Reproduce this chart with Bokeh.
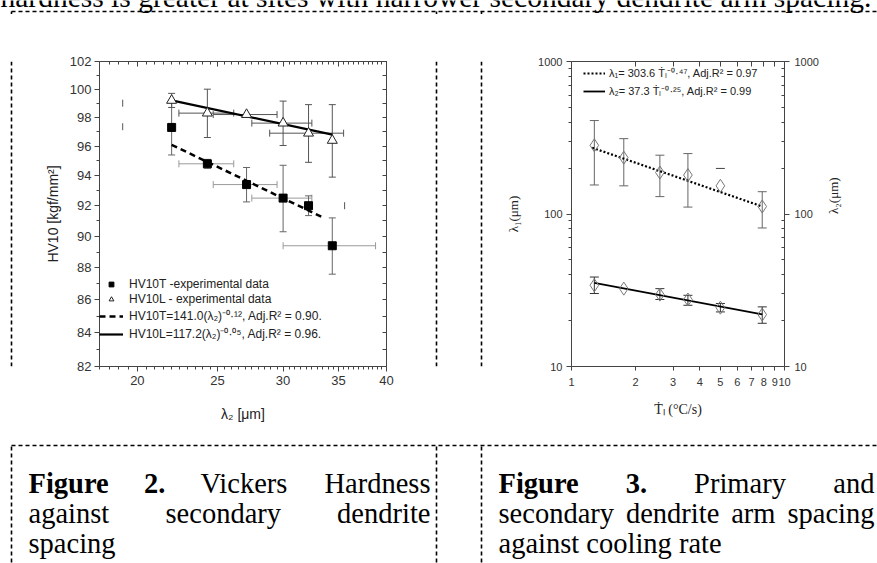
import math
from bokeh.plotting import figure
from bokeh.layouts import row, column
from bokeh.models import (ColumnDataSource, Whisker, TeeHead, FixedTicker, LogAxis,
                          PrintfTickFormatter, Range1d, Legend, LegendItem)
from bokeh.embed import file_html
from bokeh.resources import INLINE
from bokeh.core.properties import value

NAN = float("nan")

# ---------------- Figure 2 data (hardness vs secondary spacing) ----------------
lam2_um = [22.0, 24.3, 27.1, 30.0, 32.2, 34.4]
hv10t = [97.3, 94.8, 93.4, 92.5, 92.0, 89.4]
hv10t_yerr = [1.9, 0.3, 1.15, 2.2, 0.65, 1.8]
hv10t_xerr = [0.0, 1.85, 2.4, 2.5, 0.0, 4.4]
hv10l = [99.2, 98.3, 98.2, 97.6, 96.9, 96.4]
hv10l_yerr = [0.5, 1.7, 0.0, 1.55, 2.0, 2.5]
hv10l_xerr = [0.0, 1.85, 2.4, 2.5, 3.3, 0.0]
faint_cap_x = [19.2, 19.2, 35.6]
faint_cap_y = [99.0, 97.35, 92.0]
fit_t_x = [22.0, 33.6]
fit_t_y = [96.1, 91.2]
fit_l_x = [22.0, 34.4]
fit_l_y = [99.2, 96.8]
hv_x_ticks = [20, 25, 30, 35, 40]
hv_x_minor = [18 + 0.5 * i for i in range(45)]
hv_y_ticks = [82, 84, 86, 88, 90, 92, 94, 96, 98, 100, 102]
hv_y_minor = [83, 85, 87, 89, 91, 93, 95, 97, 99, 101]
hv_y_right = list(range(82, 103))

# ---------------- Figure 3 data (spacing vs cooling rate) ----------------
cooling_rate = [1.28, 1.76, 2.60, 3.52, 5.00, 7.86]
lam1 = [282, 234, 187, 180, 153, 112]
lam1_low = [155, 153, 130, 111, NAN, 81]
lam1_high = [410, 312, 243, 249, NAN, 140]
lam1_faint_cap_x = [5.00]
lam1_faint_cap_y = [199]
lam2 = [34.1, 32.4, 29.6, 27.5, 24.3, 21.9]
lam2_low = [30.1, NAN, 27.5, 25.2, 22.8, 19.2]
lam2_high = [38.6, NAN, 32.4, 29.3, 25.9, 24.6]
fit1_x = [1.25, 7.86]
fit1_y = [272, 112]
fit2_x = [1.28, 7.86]
fit2_y = [35.3, 22.0]
rate_ticks = [1, 2, 3, 4, 5, 6, 7, 8, 9, 10]
lam_ticks = [10, 100, 1000]
lam_minor = [20, 30, 40, 50, 60, 70, 80, 90, 200, 300, 400, 500, 600, 700, 800, 900]

SANS = "Liberation Sans"
SERIF = "Liberation Serif"
AX = "#444444"
DASH = "4 3"


def deco(x0, x1, y0, y1):
    p = figure(width=x1 - x0, height=y1 - y0, x_range=Range1d(x0, x1), y_range=Range1d(y1, y0),
               output_backend="svg", toolbar_location=None, tools="", min_border=0,
               x_axis_location=None, y_axis_location=None, outline_line_color=None, title=None)
    p.grid.visible = False
    return p


def vlines(p, xs, y0, y1):
    p.segment(x0=xs, x1=xs, y0=[y0] * len(xs), y1=[y1] * len(xs),
              line_color="black", line_width=1.6, line_dash=DASH)


VX = [11, 436, 481]
FS = "28.5px"
FIX = 0.3 * 28.5     # alphabetic-baseline correction for the serif text
HFS = "29.5px"
HFIX = 0.3 * 29.5

# header (running text, cut off at the top of the window)
head = deco(0, 877, 0, 14)
head.text(x=[0], y=[5 - HFIX],
          text=["hardness is greater at sites with narrower secondary dendrite arm spacing."],
          text_font=value(SERIF), text_font_size=HFS, text_baseline="alphabetic")
head.segment(x0=[11], x1=[877], y0=[11], y1=[11], line_color="black", line_width=1.4, line_dash=DASH)
vlines(head, VX, 11, 14)

stripA = deco(0, 14, 14, 443)
vlines(stripA, [11], 14, 443)
stripC = deco(434, 484, 14, 443)
vlines(stripC, [436, 481], 14, 443)

cap = deco(0, 877, 443, 563)
cap.segment(x0=[11], x1=[877], y0=[445], y1=[445], line_color="black", line_width=1.6, line_dash=DASH)
vlines(cap, VX, 446, 563)
L1, L2, L3 = 491.7 - FIX, 521.7 - FIX, 551.7 - FIX
cap.text(x=[28, 143.5, 498, 625.3], y=[L1] * 4, text=["Figure", "2.", "Figure", "3."],
         text_font=value(SERIF), text_font_size=FS, text_font_style="bold", text_baseline="alphabetic")
cap.text(x=[200, 28, 165, 28, 693.6, 498, 625.4, 730.7, 498],
         y=[L1, L2, L2, L3, L1, L2, L2, L2, L3],
         text=["Vickers", "against", "secondary", "spacing", "Primary", "secondary", "dendrite", "arm",
               "against cooling rate"],
         text_font=value(SERIF), text_font_size=FS, text_baseline="alphabetic")
cap.text(x=[430, 430, 874, 874], y=[L1, L2, L1, L2],
         text=["Hardness", "dendrite", "and", "spacing"],
         text_font=value(SERIF), text_font_size=FS, text_baseline="alphabetic", text_align="right")


def style_axis(ax, size, tin=0, tout=5, mtin=0, mtout=3, ticks=None):
    ax.axis_line_color = AX
    ax.major_tick_line_color = AX
    ax.minor_tick_line_color = AX
    ax.major_tick_in = tin
    ax.major_tick_out = tout
    ax.minor_tick_in = mtin
    ax.minor_tick_out = mtout
    ax.major_label_text_font = SANS
    ax.major_label_text_color = "#333333"
    ax.major_label_text_font_size = size
    ax.axis_label_text_font_style = "normal"
    ax.axis_label_text_color = "#222222"
    ax.formatter = PrintfTickFormatter(format="%d")
    if ticks is not None:
        ax.major_label_overrides = {t: "" for t in ticks}


def whiskers(p, base, lower, upper, dim, color, size):
    keep = [i for i in range(len(base)) if not (math.isnan(lower[i]) or lower[i] == upper[i])]
    src = ColumnDataSource(dict(base=[base[i] for i in keep], lower=[lower[i] for i in keep],
                                upper=[upper[i] for i in keep]))
    w = Whisker(source=src, base="base", lower="lower", upper="upper", dimension=dim,
                line_color=color, line_width=1,
                upper_head=TeeHead(size=size, line_color=color, line_width=1),
                lower_head=TeeHead(size=size, line_color=color, line_width=1))
    p.add_layout(w)


# ---------------- Figure 2 ----------------
p2 = figure(width=420, height=429, x_axis_type="log", y_axis_type="log",
            x_range=Range1d(18, 40), y_range=Range1d(82, 102),
            min_border_left=85, min_border_right=48, min_border_top=47, min_border_bottom=77,
            output_backend="svg", toolbar_location=None, tools="", title=None,
            outline_line_color=None)
p2.grid.visible = False
p2.xaxis[0].ticker = FixedTicker(ticks=hv_x_ticks, minor_ticks=hv_x_minor)
p2.yaxis[0].ticker = FixedTicker(ticks=hv_y_ticks, minor_ticks=hv_y_minor)
style_axis(p2.xaxis[0], "13px", tout=5, mtout=3)
style_axis(p2.yaxis[0], "13px", tout=5, mtout=3)
p2.xaxis[0].major_label_standoff = 4
p2.yaxis[0].major_label_standoff = 3
p2.xaxis[0].axis_label = "λ₂ [μm]"
p2.yaxis[0].axis_label = "HV10 [kgf/mm²]"
for ax in (p2.xaxis[0], p2.yaxis[0]):
    ax.axis_label_text_font = SANS
    ax.axis_label_text_font_size = "14px"
p2.xaxis[0].axis_label_standoff = 18
p2.yaxis[0].axis_label_standoff = 6
top2 = LogAxis(ticker=FixedTicker(ticks=hv_x_ticks, minor_ticks=hv_x_minor))
style_axis(top2, "10px", tin=5, tout=0, mtin=3, mtout=0, ticks=hv_x_ticks)
p2.add_layout(top2, "above")
right2 = LogAxis(ticker=FixedTicker(ticks=hv_y_right))
style_axis(right2, "10px", tin=4, tout=0, mtin=0, mtout=0, ticks=hv_y_right)
p2.add_layout(right2, "right")

# error bars
whiskers(p2, hv10t, [lam2_um[i] - hv10t_xerr[i] for i in range(6)],
         [lam2_um[i] + hv10t_xerr[i] for i in range(6)], "width", "#9a9a9a", 7)
whiskers(p2, lam2_um, [hv10t[i] - hv10t_yerr[i] for i in range(6)],
         [hv10t[i] + hv10t_yerr[i] for i in range(6)], "height", "#666666", 7)
whiskers(p2, hv10l, [lam2_um[i] - hv10l_xerr[i] for i in range(6)],
         [lam2_um[i] + hv10l_xerr[i] for i in range(6)], "width", "#555555", 7)
whiskers(p2, lam2_um, [hv10l[i] - hv10l_yerr[i] for i in range(6)],
         [hv10l[i] + hv10l_yerr[i] for i in range(6)], "height", "#555555", 7)
p2.scatter(faint_cap_x, faint_cap_y, marker="dash", angle=math.pi / 2, size=7, line_color="#555555")

r_fit_t = p2.line(fit_t_x, fit_t_y, line_color="black", line_width=2.5, line_dash="6 4")
r_fit_l = p2.line(fit_l_x, fit_l_y, line_color="black", line_width=2.2)
r_sq = p2.scatter(lam2_um, hv10t, marker="square", size=8, fill_color="black", line_color="black")
r_tri = p2.scatter(lam2_um, hv10l, marker="triangle", size=10, fill_color="white", line_color="#222222",
                   line_width=1)

leg2 = Legend(items=[LegendItem(label="HV10T -experimental data", renderers=[r_sq]),
                     LegendItem(label="HV10L - experimental data", renderers=[r_tri]),
                     LegendItem(label="HV10T=141.0(λ₂)⁻⁰·¹², Adj.R² = 0.90.", renderers=[r_fit_t]),
                     LegendItem(label="HV10L=117.2(λ₂)⁻⁰·⁰⁵, Adj.R² = 0.96.", renderers=[r_fit_l])],
              location=(0, 24), background_fill_alpha=0, border_line_color=None,
              label_text_font=SANS, label_text_font_size="12px", label_text_color="#222222",
              glyph_width=24, glyph_height=12, label_height=12, spacing=1, padding=0, margin=0,
              label_standoff=6)
p2.add_layout(leg2)

# ---------------- Figure 3 ----------------
p3 = figure(width=393, height=429, x_axis_type="log", y_axis_type="log",
            x_range=Range1d(1, 10), y_range=Range1d(10, 1000),
            min_border_left=87, min_border_right=93, min_border_top=47, min_border_bottom=77,
            output_backend="svg", toolbar_location=None, tools="", title=None,
            outline_line_color=None)
p3.grid.visible = False
p3.xaxis[0].ticker = FixedTicker(ticks=rate_ticks)
p3.yaxis[0].ticker = FixedTicker(ticks=lam_ticks, minor_ticks=lam_minor)
style_axis(p3.xaxis[0], "11px", tout=4, mtout=0)
style_axis(p3.yaxis[0], "11px", tout=5, mtout=3)
p3.xaxis[0].major_label_standoff = 7
p3.yaxis[0].major_label_standoff = 4
p3.xaxis[0].axis_label = "Ṫₗ (°C/s)"
p3.yaxis[0].axis_label = "λ₁(μm)"
for ax in (p3.xaxis[0], p3.yaxis[0]):
    ax.axis_label_text_font = SERIF
    ax.axis_label_text_font_size = "14px"
p3.yaxis[0].axis_label_text_font_size = "13px"
p3.xaxis[0].axis_label_standoff = 13
p3.yaxis[0].axis_label_standoff = 14
top3 = LogAxis(ticker=FixedTicker(ticks=rate_ticks))
style_axis(top3, "10px", tin=5, tout=0, mtin=0, mtout=0, ticks=rate_ticks)
p3.add_layout(top3, "above")
right3 = LogAxis(ticker=FixedTicker(ticks=lam_ticks, minor_ticks=lam_minor), axis_label="λ₂(μm)")
style_axis(right3, "11px", tin=0, tout=5, mtin=3, mtout=0)
right3.axis_label_text_font = SERIF
right3.axis_label_text_font_size = "13px"
right3.major_label_standoff = 5
right3.axis_label_standoff = 12
if "axis_label_orientation" in right3.properties():
    right3.axis_label_orientation = math.pi / 2
p3.add_layout(right3, "right")

whiskers(p3, cooling_rate, lam1_low, lam1_high, "height", "#666666", 9)
whiskers(p3, cooling_rate, lam2_low, lam2_high, "height", "#333333", 9)
p3.scatter(lam1_faint_cap_x, lam1_faint_cap_y, marker="dash", size=9, line_color="#444444")

r_f1 = p3.line(fit1_x, fit1_y, line_color="black", line_width=2.2, line_dash="2 2")
r_f2 = p3.line(fit2_x, fit2_y, line_color="black", line_width=1.8)
p3.scatter(cooling_rate, lam1, marker="diamond", size=13, fill_color=None, line_color="#777777", line_width=1)
p3.scatter(cooling_rate, lam2, marker="diamond", size=13, fill_color=None, line_color="#777777", line_width=1)

leg3 = Legend(items=[LegendItem(label="λ₁= 303.6 Ṫₗ⁻⁰·⁴⁷, Adj.R² = 0.97", renderers=[r_f1]),
                     LegendItem(label="λ₂= 37.3 Ṫₗ⁻⁰·²⁵, Adj.R² = 0.99", renderers=[r_f2])],
              location=(12, 268), background_fill_alpha=0, border_line_color=None,
              label_text_font=SANS, label_text_font_size="11px", label_text_color="#222222",
              glyph_width=22, glyph_height=12, label_height=12, spacing=3, padding=0, margin=0,
              label_standoff=4)
p3.add_layout(leg3)

layout = column(head, row(stripA, p2, stripC, p3, spacing=0), cap, spacing=0)
open("out.html", "w").write(file_html(layout, INLINE))
